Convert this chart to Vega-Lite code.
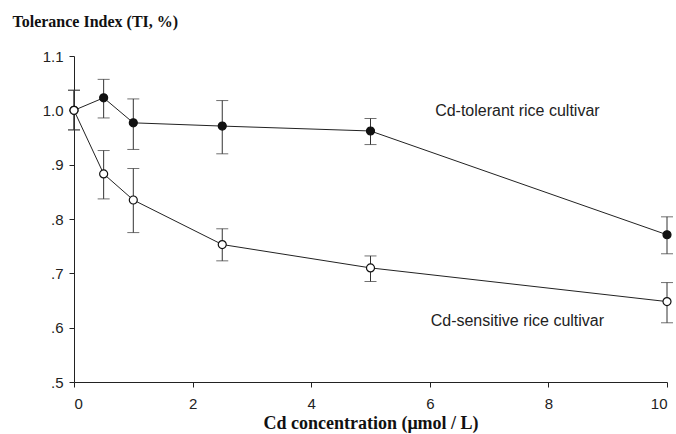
{
  "$schema": "https://vega.github.io/schema/vega-lite/v6.json",
  "width": 593,
  "height": 326,
  "autosize": {"type": "none"},
  "padding": {"left": 74, "top": 56, "right": 9, "bottom": 52},
  "background": "white",
  "config": {
    "view": {"stroke": null},
    "axis": {"grid": false, "domainColor": "#222", "tickColor": "#222", "labelColor": "#222", "labelFont": "Liberation Sans", "labelFontSize": 15, "titleFont": "Liberation Serif", "titleFontWeight": "bold", "titleColor": "#111"}
  },
  "datasets": {
    "ti": [
      {"series": "tolerant", "conc": 0, "ti": 1.0, "lo": 0.964, "hi": 1.037},
      {"series": "tolerant", "conc": 0.5, "ti": 1.023, "lo": 0.986, "hi": 1.057},
      {"series": "tolerant", "conc": 1, "ti": 0.977, "lo": 0.928, "hi": 1.021},
      {"series": "tolerant", "conc": 2.5, "ti": 0.971, "lo": 0.920, "hi": 1.018},
      {"series": "tolerant", "conc": 5, "ti": 0.962, "lo": 0.937, "hi": 0.985},
      {"series": "tolerant", "conc": 10, "ti": 0.771, "lo": 0.736, "hi": 0.804},
      {"series": "sensitive", "conc": 0, "ti": 1.0, "lo": 0.964, "hi": 1.037},
      {"series": "sensitive", "conc": 0.5, "ti": 0.883, "lo": 0.837, "hi": 0.926},
      {"series": "sensitive", "conc": 1, "ti": 0.835, "lo": 0.775, "hi": 0.893},
      {"series": "sensitive", "conc": 2.5, "ti": 0.753, "lo": 0.723, "hi": 0.782},
      {"series": "sensitive", "conc": 5, "ti": 0.710, "lo": 0.685, "hi": 0.732},
      {"series": "sensitive", "conc": 10, "ti": 0.648, "lo": 0.609, "hi": 0.683}
    ],
    "labels": [
      {"label": "Cd-tolerant rice cultivar", "conc": 6.09, "ti": 0.999},
      {"label": "Cd-sensitive rice cultivar", "conc": 6.015, "ti": 0.612}
    ]
  },
  "layer": [
    {
      "data": {"name": "ti"},
      "mark": {"type": "line", "color": "#222", "strokeWidth": 1},
      "encoding": {
        "x": {"field": "conc", "type": "quantitative", "scale": {"domain": [0, 10], "nice": false},
          "axis": {"values": [0, 2, 4, 6, 8, 10], "format": "d", "tickSize": 5, "labelPadding": 9, "title": "Cd concentration (μmol / L)", "titleFontSize": 18, "titlePadding": 3}},
        "y": {"field": "ti", "type": "quantitative", "scale": {"domain": [0.5, 1.1], "nice": false, "zero": false},
          "axis": {"values": [0.5, 0.6, 0.7, 0.8, 0.9, 1.0, 1.1], "tickSize": 5, "labelPadding": 6,
            "labelExpr": "datum.value >= 1 ? format(datum.value, '.1f') : replace(format(datum.value, '.1f'), '0.', '.')",
            "title": "Tolerance Index (TI, %)", "titleAngle": 0, "titleAlign": "left", "titleBaseline": "alphabetic", "titleX": -62, "titleY": -30, "titleFontSize": 16}},
        "detail": {"field": "series"}
      }
    },
    {
      "data": {"name": "ti"},
      "mark": {"type": "rule", "color": "#333", "strokeWidth": 1},
      "encoding": {
        "x": {"field": "conc", "type": "quantitative"},
        "y": {"field": "lo", "type": "quantitative"},
        "y2": {"field": "hi"}
      }
    },
    {
      "data": {"name": "ti"},
      "mark": {"type": "tick", "orient": "horizontal", "color": "#333", "thickness": 1, "size": 12},
      "encoding": {
        "x": {"field": "conc", "type": "quantitative"},
        "y": {"field": "lo", "type": "quantitative"}
      }
    },
    {
      "data": {"name": "ti"},
      "mark": {"type": "tick", "orient": "horizontal", "color": "#333", "thickness": 1, "size": 12},
      "encoding": {
        "x": {"field": "conc", "type": "quantitative"},
        "y": {"field": "hi", "type": "quantitative"}
      }
    },
    {
      "data": {"name": "ti"},
      "mark": {"type": "point", "filled": true, "size": 64, "stroke": "#111", "strokeWidth": 1.2, "opacity": 1},
      "encoding": {
        "x": {"field": "conc", "type": "quantitative"},
        "y": {"field": "ti", "type": "quantitative"},
        "fill": {"field": "series", "type": "nominal", "scale": {"domain": ["tolerant", "sensitive"], "range": ["#111", "white"]}, "legend": null}
      }
    },
    {
      "data": {"name": "labels"},
      "mark": {"type": "text", "align": "left", "baseline": "middle", "font": "Liberation Sans", "fontSize": 16, "color": "#222"},
      "encoding": {
        "x": {"field": "conc", "type": "quantitative"},
        "y": {"field": "ti", "type": "quantitative"},
        "text": {"field": "label"}
      }
    }
  ]
}
